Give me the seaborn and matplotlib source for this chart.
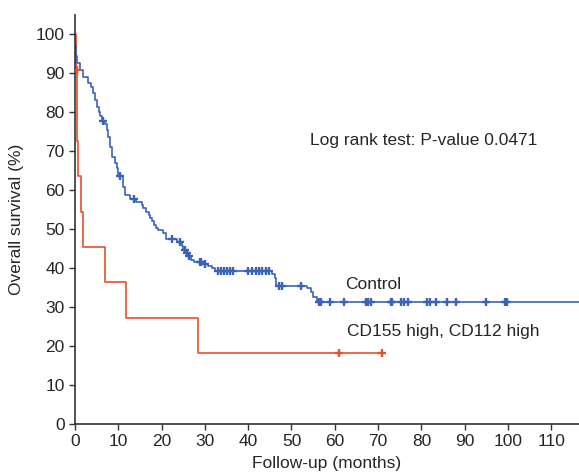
import numpy as np
import pandas as pd
import matplotlib
matplotlib.use("Agg")
import matplotlib.pyplot as plt
import seaborn as sns

# ---- data ----
ctrl_time = [0, 0.1, 0.2, 0.35, 1.15, 1.9, 3.1, 3.8, 4.2, 4.6, 5.0, 5.6, 5.8, 6.2, 6.9,
             7.3, 7.7, 8.1, 8.5, 9.2, 9.6, 10.0, 11.1, 11.5, 12.6, 14.2, 15.4, 15.8, 16.5,
             17.0, 17.3, 17.7, 18.3, 18.8, 19.2, 20.4, 21.0, 23.5, 24.6, 25.0, 25.6, 26.3,
             26.8, 27.5, 29.9, 30.8, 31.6, 32.3, 45.4, 46.1, 46.5, 53.6, 54.6, 55.0, 55.8, 117]
ctrl_surv = [100, 97, 94.5, 92.5, 90.8, 89.0, 87.4, 86.5, 84.8, 83.0, 81.4, 80.0, 79.0, 77.8, 77.0,
             75.4, 73.7, 71.1, 68.5, 67.0, 65.6, 63.6, 60.8, 58.7, 57.6, 57.0, 56.2, 55.3, 54.4,
             53.5, 52.8, 52.0, 51.0, 50.2, 49.7, 48.9, 47.4, 46.7, 45.6, 44.6, 43.8, 43.0,
             42.0, 41.6, 41.0, 40.5, 40.0, 39.2, 38.6, 37.4, 35.4, 34.8, 33.9, 32.6, 31.2, 31.2]
ctrl_censor = [6.5, 10.4, 13.6, 22.5, 24.2, 25.4, 25.9, 26.4, 28.8, 29.2, 30.0, 33.1, 33.8, 34.4,
               35.1, 35.8, 36.5, 40.0, 40.8, 41.8, 42.5, 43.2, 44.2, 44.8, 47.1, 47.7, 52.3,
               56.4, 56.9, 59.0, 62.1, 67.3, 67.7, 68.3, 72.9, 73.3, 75.4, 75.9, 76.9, 81.4,
               81.9, 83.3, 86.0, 88.1, 95.0, 99.2, 99.8]

high_time = [0, 0.3, 0.45, 0.75, 1.3, 1.9, 6.9, 11.8, 28.3, 70.9]
high_surv = [100, 90.9, 72.7, 63.6, 54.5, 45.5, 36.4, 27.3, 18.2, 18.2]
high_censor = [0.38, 60.9, 70.9]

x_ticks = list(range(0, 111, 10))
y_ticks = list(range(0, 101, 10))

BLUE = "#3a63b8"
RED = "#e2532e"

def censor_y(times, surv, cens):
    idx = np.searchsorted(times, cens, side="right") - 1
    return np.asarray(surv)[idx]

ctrl_df = pd.DataFrame({"t": ctrl_time, "s": ctrl_surv})
high_df = pd.DataFrame({"t": high_time, "s": high_surv})
ctrl_c = pd.DataFrame({"t": ctrl_censor, "s": censor_y(ctrl_time, ctrl_surv, ctrl_censor)})
high_c = pd.DataFrame({"t": high_censor, "s": censor_y(high_time, high_surv, high_censor)})

sns.set_style("ticks")
plt.rcParams["font.family"] = ["Liberation Sans", "DejaVu Sans"]

fig = plt.figure(figsize=(5.79, 4.75), dpi=100)
ax = fig.add_axes([75 / 579, 1 - 424 / 475, 1 - 75 / 579, (424 - 15) / 475])

sns.lineplot(data=high_df, x="t", y="s", drawstyle="steps-post", color=RED, lw=1.2,
             estimator=None, sort=False, ax=ax)
sns.lineplot(data=ctrl_df, x="t", y="s", drawstyle="steps-post", color=BLUE, lw=1.2,
             estimator=None, sort=False, ax=ax)
sns.scatterplot(data=high_c, x="t", y="s", marker="+", s=32, linewidth=1.7, color=RED, ax=ax, zorder=5)
sns.scatterplot(data=ctrl_c, x="t", y="s", marker="+", s=32, linewidth=1.7, color=BLUE, ax=ax, zorder=5)

ax.set_xlim(0, 116.4)
ax.set_ylim(0, 104.9)
ax.set_xticks(x_ticks)
ax.set_yticks(y_ticks)
ax.tick_params(axis="both", labelsize=12.5, length=4, width=1, color="#333333", direction="out")
for side in ["top", "right"]:
    ax.spines[side].set_visible(False)
for side in ["left", "bottom"]:
    ax.spines[side].set_color("#333333")
    ax.spines[side].set_linewidth(1.2)

ax.set_xlabel("Follow-up (months)", fontsize=12.5, labelpad=5)
ax.set_ylabel("Overall survival (%)", fontsize=12.5, labelpad=8)

ax.text(54.2, 72.8, "Log rank test: P-value 0.0471", fontsize=12.5, va="center", ha="left")
ax.text(62.3, 35.8, "Control", fontsize=12.5, va="center", ha="left")
ax.text(62.8, 23.8, "CD155 high, CD112 high", fontsize=12.5, va="center", ha="left")

fig.savefig("out.png", dpi=100)
